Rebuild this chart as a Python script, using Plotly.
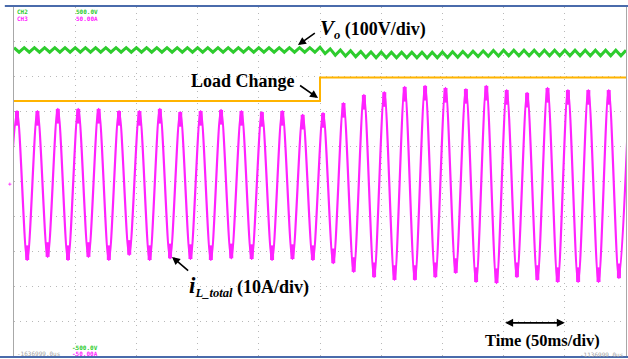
import numpy as np
import plotly.graph_objects as go

# ---------------- data (screen divisions, time in ms) ----------------
# Inductor current iL_total: extrema (div, 10 A/div)
i_first_peak_t = 2.46          # ms, first positive peak
i_period = 16.67               # ms (60 Hz)
i_peaks = [2.02, 2.02, 2.08, 2.08, 2.08, 2.02, 2.02, 2.08, 1.99, 2.02,
           2.05, 2.02, 1.99, 2.02, 1.91, 1.96, 2.25, 2.48, 2.56, 2.71,
           2.74, 2.68, 2.65, 2.74, 2.62, 2.54, 2.68, 2.62, 2.62, 2.62, 2.62]
i_troughs = [-2.22, -2.25, -2.16, -2.25, -2.16, -2.25, -2.10, -2.25, -2.20,
             -2.22, -2.25, -2.20, -2.22, -2.25, -2.22, -2.25, -2.34, -2.59,
             -2.74, -2.82, -2.82, -2.74, -2.62, -2.88, -2.91, -2.74, -2.82,
             -2.88, -2.88, -2.88, -2.77]   # first one precedes the first peak

# Output voltage Vo (100 V/div): level knots and ripple (120 Hz)
vo_t_knots = [0, 250, 262, 290, 340, 400, 500]
vo_level = [3.77, 3.77, 3.70, 3.63, 3.62, 3.68, 3.68]
vo_ripple_before = 0.065
vo_ripple_after = 0.08
vo_ripple_half_period = 4.1667  # ms

# Load-change step signal
load_t = [0, 250, 250, 500]
load_level = [2.31, 2.31, 2.98, 2.98]

# Screen texts
ch_labels = ["CH2", "CH3"]
ch_top = ["500.0V", "50.00A"]
ch_bottom = ["-500.0V", "-50.00A"]
time_left = "-1636999.0us"
time_right = "-1136999.0us"

# ---------------- build traces ----------------
n_peaks = len(i_peaks)
peak_t = [i_first_peak_t + k * i_period for k in range(n_peaks)]
trough_t = [i_first_peak_t + (k - 0.5) * i_period for k in range(len(i_troughs))]
ext_t = []
ext_v = []
for k in range(n_peaks):
    ext_t.append(trough_t[k]); ext_v.append(i_troughs[k])
    ext_t.append(peak_t[k]); ext_v.append(i_peaks[k])

MAG = "#ff22ff"
GRN = "#2ecc2e"
ORG = "#ffb400"

fig = go.Figure()

fig.add_trace(go.Scatter(x=ext_t, y=ext_v, mode="lines",
                         line=dict(color=MAG, width=2.2, shape="spline", smoothing=0.9),
                         hoverinfo="skip", showlegend=False))

# switching-noise thickening near extremes
fx, fy = [], []
for t, v in zip(ext_t, ext_v):
    fx += [t, t, None]
    fy += [v, v - np.sign(v) * 0.42, None]
fig.add_trace(go.Scatter(x=fx, y=fy, mode="lines",
                         line=dict(color=MAG, width=4),
                         hoverinfo="skip", showlegend=False))

# Vo ripple
vo_t = np.arange(0, 500 + vo_ripple_half_period, vo_ripple_half_period)
vo_c = np.interp(vo_t, vo_t_knots, vo_level)
amp = np.where(vo_t < 250, vo_ripple_before, vo_ripple_after)
sign = np.where(np.arange(len(vo_t)) % 2 == 0, 1, -1)
fig.add_trace(go.Scatter(x=vo_t, y=vo_c + sign * amp, mode="lines",
                         line=dict(color=GRN, width=3),
                         hoverinfo="skip", showlegend=False))

# Load change
fig.add_trace(go.Scatter(x=load_t, y=load_level, mode="lines",
                         line=dict(color=ORG, width=2),
                         hoverinfo="skip", showlegend=False))

# ---------------- layout ----------------
W, H = 628, 359
ML, MR, MT, MB = 14, 2, 7, 3
fig.update_layout(
    width=W, height=H,
    margin=dict(l=ML, r=MR, t=MT, b=MB, autoexpand=False),
    paper_bgcolor="white", plot_bgcolor="white",
    showlegend=False,
    xaxis=dict(range=[0, 500], dtick=50, showgrid=True, gridcolor="#b8b8b8",
               griddash="1px,5px", gridwidth=1, zeroline=False,
               showticklabels=False, ticks="", showline=False, fixedrange=True),
    yaxis=dict(range=[-5, 5], dtick=1, showgrid=True, gridcolor="#b8b8b8",
               griddash="1px,5px", gridwidth=1, zeroline=False,
               showticklabels=False, ticks="", showline=True,
               linecolor="#a8a8a8", linewidth=1, mirror=True, fixedrange=True),
)

BLUE = "#4a6bab"
fig.add_shape(type="line", xref="paper", yref="paper", x0=-0.015, x1=1.004,
              y0=1.003, y1=1.003, line=dict(color=BLUE, width=2))
fig.add_shape(type="line", xref="paper", yref="paper", x0=-0.023, x1=1.004,
              y0=-0.003, y1=-0.003, line=dict(color=BLUE, width=2))

SERIF = "Liberation Serif"
ann = []
def txt(x, y, text, size=18, xanchor="left", yanchor="middle"):
    ann.append(dict(x=x, y=y, xref="x", yref="y", text=text, showarrow=False,
                    xanchor=xanchor, yanchor=yanchor,
                    font=dict(family=SERIF, size=size, color="black")))

def arrow(tx, ty, sx, sy, head=2, side="end"):
    ann.append(dict(x=tx, y=ty, ax=sx, ay=sy, xref="x", yref="y", axref="x", ayref="y",
                    text="", showarrow=True, arrowhead=head, startarrowhead=head,
                    arrowsize=1, startarrowsize=1, arrowside=side,
                    arrowwidth=1.6, arrowcolor="black", standoff=0, startstandoff=0))

txt(248.0, 4.36, '<b><i><span style="font-size:21px">V</span></i></b><sub><b><i>o</i></b></sub><b> (100V/div)</b>')
arrow(232.0, 3.91, 247.0, 4.28)

txt(143.0, 2.88, "<b>Load Change</b>")
arrow(248.4, 2.39, 232.5, 2.78)

txt(141.0, -3.0, '<b><i><span style="font-size:23px">i</span></i></b><sub><b><i>L_total</i></b></sub><b> (10A/div)</b>')
arrow(129.1, -2.16, 143.5, -2.59)

txt(383.0, -4.57, "<b>Time (50ms/div)</b>", size=16.5)
arrow(450, -4.05, 400, -4.05, side="end+start")

def small(xp, yp, text, color, xanchor="left"):
    ann.append(dict(x=xp, y=yp, xref="paper", yref="paper", text=text, showarrow=False,
                    xanchor=xanchor, yanchor="middle",
                    font=dict(family="DejaVu Sans Mono", size=6, color=color)))

def py2paper(py):
    return (H - MB - py) / (H - MB - MT)

def px2paper(px):
    return (px - ML) / (W - ML - MR)

small(px2paper(15), py2paper(11.5), "<b>" + ch_labels[0] + "</b>", GRN)
small(px2paper(15), py2paper(18.5), "<b>" + ch_labels[1] + "</b>", MAG)
small(px2paper(74), py2paper(11.5), "<b>" + ch_top[0] + "</b>", GRN)
small(px2paper(74), py2paper(18.5), "<b>" + ch_top[1] + "</b>", MAG)
small(px2paper(70), py2paper(347), "<b>" + ch_bottom[0] + "</b>", GRN)
small(px2paper(70), py2paper(353.5), "<b>" + ch_bottom[1] + "</b>", MAG)
small(px2paper(15), py2paper(353), time_left, "#a0a0a0")
small(px2paper(626), py2paper(354.5), time_right, "#a0a0a0", xanchor="right")
small(px2paper(10), py2paper(183), "<b>+</b>", MAG, xanchor="center")

fig.update_layout(annotations=ann)
fig.write_html("out.html",
               config={"displayModeBar": False},
               post_script="document.body.style.margin='0px';"
                           "document.body.style.overflow='hidden';")
